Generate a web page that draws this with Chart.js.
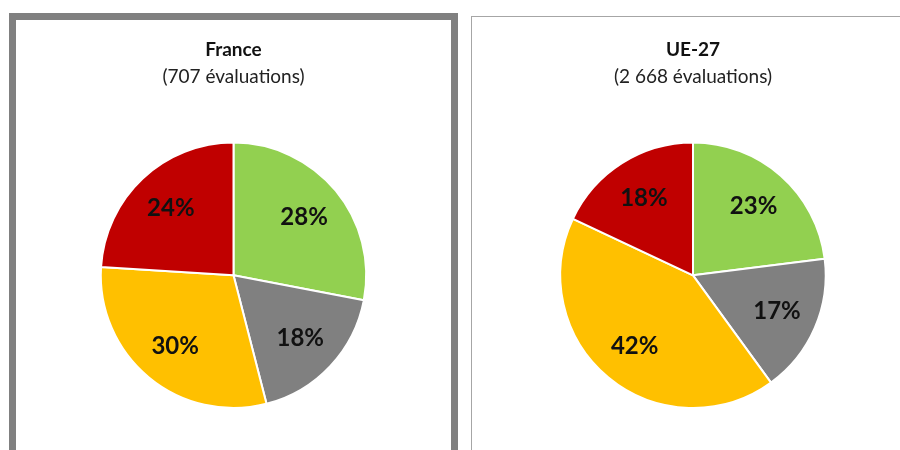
<!DOCTYPE html>
<html>
<head>
<meta charset="utf-8">
<script src="https://cdn.jsdelivr.net/npm/chart.js@4"></script>
<style>
  body { margin: 0; background: #fff; width: 900px; height: 450px; overflow: hidden; position: relative; }
  #panelFr { position: absolute; left: 9px; top: 13px; width: 435px; height: 460px; border: 7px solid #808080; }
  #panelUe { position: absolute; left: 471px; top: 16px; width: 460px; height: 460px; border: 1px solid #a6a6a6; }
  canvas { position: absolute; left: 0; top: 0; }
</style>
</head>
<body>
<div id="panelFr"><canvas id="chartFr" width="435" height="430"></canvas></div>
<div id="panelUe"><canvas id="chartUe" width="428" height="433"></canvas></div>
<script>
'use strict'

const categories = ['Vert', 'Gris', 'Orange', 'Rouge']
const franceValues = [28, 18, 30, 24]
const ueValues = [23, 17, 42, 18]
const franceTitle = ['France', '(707 évaluations)']
const ueTitle = ['UE-27', '(2 668 évaluations)']

const sliceColors = ['#92d050', '#808080', '#ffc000', '#c00000']
const fontFamily = 'Lato, "Open Sans", sans-serif'

// percent labels drawn inside each slice
const pctLabels = {
  id: 'pctLabels',
  afterDatasetsDraw(chart) {
    const c = chart.ctx
    const meta = chart.getDatasetMeta(0)
    const values = chart.data.datasets[0].data
    c.save()
    c.font = 'bold 24px ' + fontFamily
    c.fillStyle = '#111'
    c.textAlign = 'center'
    c.textBaseline = 'middle'
    meta.data.forEach((arc, i) => {
      const p = arc.getProps(['x', 'y', 'startAngle', 'endAngle', 'outerRadius'], true)
      const mid = (p.startAngle + p.endAngle) / 2
      const r = p.outerRadius * 0.69
      c.fillText(values[i] + '%', p.x + Math.cos(mid) * r, p.y + Math.sin(mid) * r)
    })
    c.restore()
  }
}

function makePie(id, values, titles, pad) {
  return new Chart(document.getElementById(id), {
    type: 'pie',
    data: {
      labels: categories,
      datasets: [{
        data: values,
        backgroundColor: sliceColors,
        borderColor: '#fff',
        borderWidth: 2
      }]
    },
    options: {
      responsive: false,
      animation: false,
      events: [],
      layout: { padding: { left: pad.left, right: 0, top: 0, bottom: pad.bottom } },
      plugins: {
        legend: { display: false },
        tooltip: { enabled: false },
        title: {
          display: true,
          text: titles[0],
          color: '#111',
          font: { family: fontFamily, size: 19, weight: 'bold' },
          padding: { top: pad.titleTop, bottom: 5 }
        },
        subtitle: {
          display: true,
          text: titles[1],
          color: '#222',
          font: { family: fontFamily, size: 19 },
          padding: { top: 0, bottom: 53 }
        }
      }
    },
    plugins: [pctLabels]
  })
}

makePie('chartFr', franceValues, franceTitle, { left: 0, bottom: 41, titleTop: 18 })
makePie('chartUe', ueValues, ueTitle, { left: 14, bottom: 41, titleTop: 21 })
</script>
</body>
</html>
